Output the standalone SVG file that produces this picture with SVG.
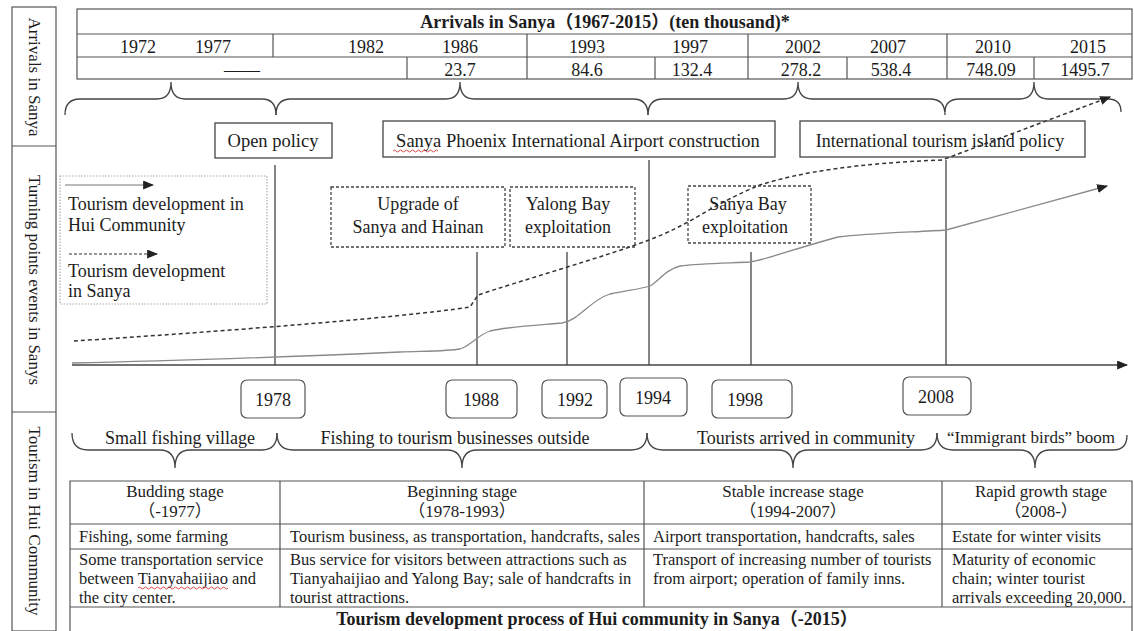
<svg xmlns="http://www.w3.org/2000/svg" width="1134" height="631" viewBox="0 0 1134 631">
<defs>
<style>
.t{font-family:'Liberation Serif','Noto Sans CJK SC',serif;fill:#1c1c1c;font-size:18px}
.s{font-size:16.5px}
.m{text-anchor:middle}
.b{font-weight:bold}
.grid{fill:none;stroke:#555;stroke-width:1.2}
.box{fill:none;stroke:#444;stroke-width:1.3}
.dbox{fill:none;stroke:#444;stroke-width:1.3;stroke-dasharray:3 2}
.ybox{fill:#fff;stroke:#555;stroke-width:1.2}
.brace{fill:none;stroke:#444;stroke-width:1.3}
.vl{stroke:#444;stroke-width:1.3}
.hui{fill:none;stroke:#8a8a8a;stroke-width:1.3}
.san{fill:none;stroke:#333;stroke-width:1.5;stroke-dasharray:4 3}
.wavy{fill:none;stroke:#d33;stroke-width:0.9}
</style>
<marker id="ah" viewBox="0 0 10 10" refX="9" refY="5" markerWidth="11" markerHeight="9" markerUnits="userSpaceOnUse" orient="auto" preserveAspectRatio="none"><path d="M0,0 L10,5 L0,10 z" fill="#222"/></marker>
</defs>
<rect width="1134" height="631" fill="#fff"/>

<g id="side-labels">
<rect x="12" y="7" width="44" height="624" class="grid"/>
<line x1="12" y1="146" x2="56" y2="146" class="grid"/>
<line x1="12" y1="412" x2="56" y2="412" class="grid"/>
<text class="t m" transform="translate(34,77) rotate(90)" dominant-baseline="central" style="font-size:17px">Arrivals in Sanya</text>
<text class="t m" transform="translate(34,280) rotate(90)" dominant-baseline="central" style="font-size:17px">Turning points events in Sanys</text>
<text class="t m" transform="translate(34,521) rotate(90)" dominant-baseline="central" style="font-size:17px">Tourism in Hui Community</text>
</g>

<g id="arrivals-table">
<rect x="77" y="9" width="1055" height="70" class="grid"/>
<line x1="77" y1="34" x2="1132" y2="34" class="grid"/>
<line x1="77" y1="57" x2="1132" y2="57" class="grid"/>
<path class="grid" d="M273,34V57M527,34V79M748,34V79M947,34V79M407,57V79M655,57V79M847,57V79M1034,57V79"/>
<text class="t m b" x="605" y="28">Arrivals in Sanya（1967-2015）(ten thousand)*</text>
<text class="t m" x="138" y="53">1972</text>
<text class="t m" x="213" y="53">1977</text>
<text class="t m" x="366" y="53">1982</text>
<text class="t m" x="460" y="53">1986</text>
<text class="t m" x="587" y="53">1993</text>
<text class="t m" x="690" y="53">1997</text>
<text class="t m" x="803" y="53">2002</text>
<text class="t m" x="888" y="53">2007</text>
<text class="t m" x="993" y="53">2010</text>
<text class="t m" x="1088" y="53">2015</text>
<text class="t m" x="242" y="76">——</text>
<text class="t m" x="460" y="76">23.7</text>
<text class="t m" x="587" y="76">84.6</text>
<text class="t m" x="692" y="76">132.4</text>
<text class="t m" x="801" y="76">278.2</text>
<text class="t m" x="891" y="76">538.4</text>
<text class="t m" x="991" y="76">748.09</text>
<text class="t m" x="1085" y="76">1495.7</text>
</g>

<g id="connectors">
<path class="brace" d="M65,115 Q65,99 80,99 L157,99 Q171,99 171,82 Q171,99 185,99 L262,99 Q276,99 276,115"/>
<path class="brace" d="M276,115 Q276,99 291,99 L446,99 Q460,99 460,82 Q460,99 474,99 L633,99 Q648,99 648,115"/>
<path class="brace" d="M648,115 Q648,99 663,99 L784,99 Q798,99 798,82 Q798,99 812,99 L930,99 Q945,99 945,115"/>
<path class="brace" d="M945,112 Q945,99 960,99 L1020,99 Q1034,99 1034,82 Q1034,99 1048,99 L1108,99 Q1121,99 1121,112"/>

<line x1="275" y1="165" x2="275" y2="365" class="vl"/>
<line x1="477" y1="252" x2="477" y2="365" class="vl"/>
<line x1="567" y1="252" x2="567" y2="365" class="vl"/>
<line x1="649" y1="160" x2="649" y2="365" class="vl"/>
<line x1="751" y1="252" x2="751" y2="365" class="vl"/>
<line x1="946" y1="160" x2="946" y2="365" class="vl"/>

<line x1="72" y1="365" x2="1127" y2="365" stroke="#444" stroke-width="1.5" marker-end="url(#ah)"/>

<path class="hui" marker-end="url(#ah)" d="M72,363 C180,361 330,355 400,352 C430,351 450,351 460,349 C470,346 478,335 490,331 C505,327 540,325 562,323 C580,320 590,300 610,294 C630,290 640,289 650,286 C660,280 665,270 680,266 C700,263 735,263 750,262 C765,260 790,250 838,237 C870,233 920,232 946,230 L1107,186"/>
<path class="san" marker-end="url(#ah)" d="M74,341 C200,333 400,318 470,307 L478,295 C520,281 610,255 649,240 C670,232 680,226 690,221 C715,206 740,193 760,185 C800,172 860,163 942,160 L1110,97"/>

<path class="brace" d="M72,433 Q72,450 88,450 L160,450 Q175,450 175,468 Q175,450 190,450 L262,450 Q277,450 277,433"/>
<path class="brace" d="M277,433 Q277,450 293,450 L447,450 Q462,450 462,468 Q462,450 477,450 L631,450 Q647,450 647,433"/>
<path class="brace" d="M647,433 Q647,450 663,450 L778,450 Q793,450 793,468 Q793,450 808,450 L921,450 Q937,450 937,433"/>
<path class="brace" d="M937,433 Q937,450 953,450 L1020,450 Q1035,450 1035,468 Q1035,450 1050,450 L1113,450 Q1127,450 1127,435"/>
</g>

<g id="legend">
<rect x="60" y="176" width="207" height="128" fill="none" stroke="#aaa" stroke-width="1.2" stroke-dasharray="1.5 1.5"/>
<line x1="65" y1="185" x2="153" y2="185" stroke="#777" stroke-width="1" marker-end="url(#ah)"/>
<text class="t" x="68" y="210">Tourism development in</text>
<text class="t" x="68" y="231">Hui Community</text>
<line x1="69" y1="254" x2="157" y2="254" stroke="#333" stroke-width="1.2" stroke-dasharray="3 2" marker-end="url(#ah)"/>
<text class="t" x="68" y="277">Tourism development</text>
<text class="t" x="68" y="297">in Sanya</text>
</g>

<g id="open-policy">
<rect x="215" y="123" width="117" height="35" class="box"/>
<text class="t m" x="273" y="147" style="font-size:18.5px">Open policy</text>
</g>
<g id="airport">
<rect x="383" y="121" width="392" height="36" class="box"/>
<text class="t m" x="578" y="147" style="font-size:18.5px">Sanya Phoenix International Airport construction</text>
<path class="wavy" d="M393,151 q1.5,-2 3,0 t3,0 t3,0 t3,0 t3,0 t3,0 t3,0 t3,0 t3,0 t3,0 t3,0 t3,0 t3,0 t3,0 t3,0"/>
</g>
<g id="island-policy">
<rect x="800" y="121" width="285" height="36" class="box"/>
<text class="t m" x="940" y="147">International tourism island policy</text>
</g>

<g id="upgrade">
<rect x="331" y="187" width="174" height="60" class="dbox"/>
<text class="t m" x="418" y="210">Upgrade of</text>
<text class="t m" x="418" y="233">Sanya and Hainan</text>
</g>
<g id="yalong">
<rect x="510" y="187" width="125" height="60" class="dbox"/>
<text class="t m" x="568" y="210">Yalong Bay</text>
<text class="t m" x="568" y="233">exploitation</text>
</g>
<g id="sanya-bay">
<rect x="688" y="186" width="123" height="57" class="dbox"/>
<text class="t m" x="748" y="210">Sanya Bay</text>
<text class="t m" x="745" y="233">exploitation</text>
</g>

<g id="y1978"><rect x="241" y="380" width="64" height="38" rx="6" class="ybox"/><text class="t m" x="273" y="406">1978</text></g>
<g id="y1988"><rect x="446" y="380" width="71" height="38" rx="6" class="ybox"/><text class="t m" x="481" y="406">1988</text></g>
<g id="y1992"><rect x="542" y="380" width="65" height="38" rx="6" class="ybox"/><text class="t m" x="575" y="406">1992</text></g>
<g id="y1994"><rect x="620" y="378" width="67" height="38" rx="6" class="ybox"/><text class="t m" x="653" y="404">1994</text></g>
<g id="y1998"><rect x="712" y="380" width="80" height="38" rx="6" class="ybox"/><text class="t m" x="745" y="406">1998</text></g>
<g id="y2008"><rect x="903" y="377" width="68" height="38" rx="6" class="ybox"/><text class="t m" x="936" y="403">2008</text></g>

<g id="phase-labels">
<text class="t m" x="180" y="444">Small fishing village</text>
<text class="t m" x="455" y="444">Fishing to tourism businesses outside</text>
<text class="t m" x="806" y="444">Tourists arrived in community</text>
<text class="t m" x="1031" y="443" style="font-size:17px">“Immigrant birds” boom</text>
</g>

<g id="stage-table">
<path class="grid" d="M70,631V481H1132V631M70,524H1132M70,549H1132M70,607H1132M280,481V607M644,481V607M942,481V607"/>
<text class="t m" x="175" y="497" style="font-size:17px">Budding stage</text>
<text class="t m" x="175" y="517" style="font-size:17px">（-1977）</text>
<text class="t m" x="462" y="497" style="font-size:17px">Beginning stage</text>
<text class="t m" x="462" y="517" style="font-size:17px">（1978-1993）</text>
<text class="t m" x="793" y="497" style="font-size:17px">Stable increase stage</text>
<text class="t m" x="793" y="517" style="font-size:17px">（1994-2007）</text>
<text class="t m" x="1041" y="497" style="font-size:17px">Rapid growth stage</text>
<text class="t m" x="1041" y="517" style="font-size:17px">（2008-）</text>
<text class="t s" x="79" y="542">Fishing, some farming</text>
<text class="t s" x="290" y="542">Tourism business, as transportation, handcrafts, sales</text>
<text class="t s" x="653" y="542">Airport transportation, handcrafts, sales</text>
<text class="t s" x="952" y="542">Estate for winter visits</text>
<text class="t s" x="79" y="565">Some transportation service</text>
<text class="t s" x="79" y="584">between Tianyahaijiao and</text>
<text class="t s" x="79" y="603">the city center.</text>
<path class="wavy" d="M138,588 q1.5,-2 3,0 t3,0 t3,0 t3,0 t3,0 t3,0 t3,0 t3,0 t3,0 t3,0 t3,0 t3,0 t3,0 t3,0 t3,0 t3,0 t3,0 t3,0 t3,0 t3,0 t3,0 t3,0 t3,0 t3,0 t3,0 t3,0 t3,0 t3,0 t3,0 t3,0"/>
<text class="t s" x="290" y="565">Bus service for visitors between attractions such as</text>
<text class="t s" x="290" y="584">Tianyahaijiao and Yalong Bay; sale of handcrafts in</text>
<text class="t s" x="290" y="603">tourist attractions.</text>
<text class="t s" x="653" y="565">Transport of increasing number of tourists</text>
<text class="t s" x="653" y="584">from airport; operation of family inns.</text>
<text class="t s" x="952" y="565">Maturity of economic</text>
<text class="t s" x="952" y="584">chain; winter tourist</text>
<text class="t s" x="952" y="603">arrivals exceeding 20,000.</text>
<text class="t m b" x="597" y="625">Tourism development process of Hui community in Sanya（-2015）</text>
</g>
</svg>
